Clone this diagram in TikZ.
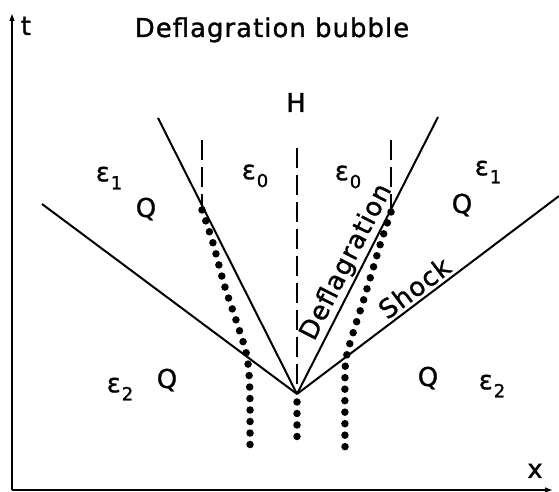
\documentclass[tikz,border=0pt]{standalone}
\usepackage{fontspec}
\setmainfont{DejaVu Sans}[LetterSpace=4, FakeBold=1.2]
\usetikzlibrary{arrows.meta,calc}
\newcommand{\epsl}[1]{ε\kern1bp\raisebox{-8bp}{\fontsize{18}{18}\selectfont #1}}

\begin{document}
\begin{tikzpicture}[x=1bp, y=1bp, >={Latex[length=13bp,width=5bp]},
  every node/.style={font=\fontsize{26}{30}\selectfont, inner sep=0pt},
  front/.style={line width=2bp},
  hdash/.style={line width=2bp, dash pattern=on 20bp off 7bp},
  dotrow/.style={line width=7.5bp, line cap=round, dash pattern=on 0bp off 11.5bp}]
  \useasboundingbox (0,0) rectangle (559,492);

  % Axes
  \coordinate (O) at (12,2);
  \coordinate (tend) at (12,484);
  \coordinate (xend) at (558,2);
  \draw[->, line width=2.4bp] (O) -- (tend);
  \draw[->, line width=2.4bp] (O) -- (xend);
  \node[anchor=base] (tlab) at (26,457) {t};
  \node[anchor=base] (xlab) at (535,14) {x};
  \node[anchor=base] (title) at (272,455) {Deflagration bubble};

  % Fronts from the centre
  \coordinate (V) at (297,98);
  \coordinate (DL) at (158,374);
  \coordinate (DR) at (438,375);
  \coordinate (SL) at (42,288);
  \coordinate (SR) at (559,296);
  \draw[front] (V) -- (DL);
  \draw[front] (V) -- (SL);
  \draw[front] (V) -- (DR) node[pos=0.45, sloped, above=2bp] (deflab) {Deflagration};
  \draw[front] (V) -- (SR) node[pos=0.48, sloped, above=3bp] (shocklab) {Shock};

  % Dashed lines
  \coordinate (fl) at ($(V)!0.68!(DL)$);
  \coordinate (fr) at ($(V)!0.667!(DR)$);
  \coordinate (ftop) at (0,352);
  \coordinate (htop) at (297,344);
  \draw[hdash] (fl |- ftop) -- (fl);
  \draw[hdash] (fr |- ftop) -- (fr);
  \draw[hdash] (htop) -- (V);
  \node[anchor=base] (hlab) at (296,380) {H};

  % Dotted curves
  \draw[dotrow] plot[smooth] coordinates {(202,282) (213,249) (224,208) (236,172) (246,140) (249,118) (250,90) (250,42)};
  \draw[dotrow] plot[smooth] coordinates {(391,280) (381,250) (372,220) (363,190) (354,162) (347,138) (345,118) (345,44)};
  \draw[dotrow] (297,90) -- (297,44);

  % Regions
  \node (e1l) at (109,314) {\epsl{1}};
  \node (e0l) at (255,316) {\epsl{0}};
  \node (e0r) at (348,315) {\epsl{0}};
  \node (e1r) at (488,320) {\epsl{1}};
  \node (e2l) at (120,103) {\epsl{2}};
  \node (e2r) at (492,106) {\epsl{2}};
  \node (qul) at (146,283) {Q};
  \node (qur) at (462,287) {Q};
  \node (qll) at (167,112) {Q};
  \node (qlr) at (428,114) {Q};
\end{tikzpicture}
\end{document}
